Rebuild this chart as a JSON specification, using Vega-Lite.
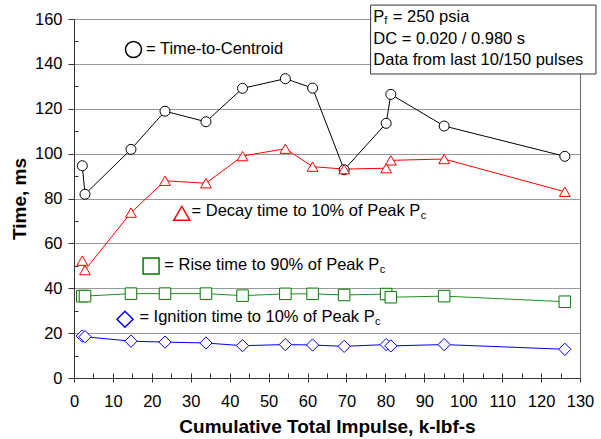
{
  "$schema": "https://vega.github.io/schema/vega-lite/v6.json",
  "autosize": "none",
  "width": 506,
  "height": 359,
  "padding": {"left": 74, "top": 19, "right": 21, "bottom": 61},
  "background": "white",
  "config": {
    "font": "Liberation Sans",
    "view": {"stroke": "#666666", "strokeWidth": 1},
    "axis": {"labelFont": "Liberation Sans", "titleFont": "Liberation Sans", "labelColor": "#000000", "titleColor": "#000000"}
  },
  "datasets": {
    "main": [
      {"x": 2.13, "y": 94.6, "s": "Centroid"},
      {"x": 2.83, "y": 81.9, "s": "Centroid"},
      {"x": 14.64, "y": 101.9, "s": "Centroid"},
      {"x": 23.38, "y": 118.9, "s": "Centroid"},
      {"x": 33.9, "y": 114.2, "s": "Centroid"},
      {"x": 43.3, "y": 129.1, "s": "Centroid"},
      {"x": 54.3, "y": 133.4, "s": "Centroid"},
      {"x": 61.3, "y": 129.2, "s": "Centroid"},
      {"x": 69.4, "y": 92.8, "s": "Centroid"},
      {"x": 80.2, "y": 113.5, "s": "Centroid"},
      {"x": 81.4, "y": 126.4, "s": "Centroid"},
      {"x": 95.1, "y": 112.3, "s": "Centroid"},
      {"x": 126.1, "y": 98.8, "s": "Centroid"},
      {"x": 2.13, "y": 52.3, "s": "Decay"},
      {"x": 2.83, "y": 48.1, "s": "Decay"},
      {"x": 14.64, "y": 73.7, "s": "Decay"},
      {"x": 23.38, "y": 87.9, "s": "Decay"},
      {"x": 33.9, "y": 86.8, "s": "Decay"},
      {"x": 43.3, "y": 98.9, "s": "Decay"},
      {"x": 54.3, "y": 102.2, "s": "Decay"},
      {"x": 61.3, "y": 94.2, "s": "Decay"},
      {"x": 69.4, "y": 93.1, "s": "Decay"},
      {"x": 80.2, "y": 93.5, "s": "Decay"},
      {"x": 81.4, "y": 97.0, "s": "Decay"},
      {"x": 95.1, "y": 97.6, "s": "Decay"},
      {"x": 126.1, "y": 83.0, "s": "Decay"},
      {"x": 2.13, "y": 36.5, "s": "Rise"},
      {"x": 2.83, "y": 36.5, "s": "Rise"},
      {"x": 14.64, "y": 37.6, "s": "Rise"},
      {"x": 23.38, "y": 37.6, "s": "Rise"},
      {"x": 33.9, "y": 37.6, "s": "Rise"},
      {"x": 43.3, "y": 36.7, "s": "Rise"},
      {"x": 54.3, "y": 37.5, "s": "Rise"},
      {"x": 61.3, "y": 37.5, "s": "Rise"},
      {"x": 69.4, "y": 37.0, "s": "Rise"},
      {"x": 80.2, "y": 37.4, "s": "Rise"},
      {"x": 81.4, "y": 36.0, "s": "Rise"},
      {"x": 95.1, "y": 36.5, "s": "Rise"},
      {"x": 126.1, "y": 34.0, "s": "Rise"},
      {"x": 2.13, "y": 18.7, "s": "Ignition"},
      {"x": 2.83, "y": 18.4, "s": "Ignition"},
      {"x": 14.64, "y": 16.4, "s": "Ignition"},
      {"x": 23.38, "y": 16.0, "s": "Ignition"},
      {"x": 33.9, "y": 15.6, "s": "Ignition"},
      {"x": 43.3, "y": 14.4, "s": "Ignition"},
      {"x": 54.3, "y": 14.9, "s": "Ignition"},
      {"x": 61.3, "y": 14.7, "s": "Ignition"},
      {"x": 69.4, "y": 14.1, "s": "Ignition"},
      {"x": 80.2, "y": 14.9, "s": "Ignition"},
      {"x": 81.4, "y": 14.3, "s": "Ignition"},
      {"x": 95.1, "y": 14.9, "s": "Ignition"},
      {"x": 126.1, "y": 12.8, "s": "Ignition"}
    ],
    "keys": [
      {"x": 15.28, "y": 146.4, "s": "Centroid"},
      {"x": 27.7, "y": 73.4, "s": "Decay"},
      {"x": 19.8, "y": 49.9, "s": "Rise"},
      {"x": 13.1, "y": 26.2, "s": "Ignition"}
    ],
    "labels": [
      {"x": 18.5, "y": 146.6, "t": "= Time-to-Centroid"},
      {"x": 30.2, "y": 74.4, "t": "= Decay time to 10% of Peak P"},
      {"x": 23.2, "y": 50.4, "t": "= Rise time to 90% of Peak P"},
      {"x": 16.8, "y": 27.3, "t": "= Ignition time to 10% of Peak P"},
      {"x": 76.9, "y": 161.0, "t": "P"},
      {"x": 81.9, "y": 161.0, "t": "= 250 psia"},
      {"x": 76.9, "y": 151.1, "t": "DC = 0.020 / 0.980 s"},
      {"x": 76.9, "y": 141.7, "t": "Data from last 10/150 pulses"}
    ],
    "subs": [
      {"x": 89.1, "y": 72.4, "t": "c"},
      {"x": 78.55, "y": 48.1, "t": "c"},
      {"x": 77.35, "y": 25.1, "t": "c"},
      {"x": 79.7, "y": 159.3, "t": "f"}
    ],
    "box": [
      {"x": 76.2, "x2": 134.1, "y": 166.2, "y2": 135.5}
    ]
  },
  "resolve": {"axis": {"x": "independent", "y": "independent"}},
  "layer": [
    {
      "data": {"name": "main"},
      "mark": {"type": "line", "strokeWidth": 1},
      "encoding": {
        "x": {"field": "x", "type": "quantitative",
          "scale": {"domain": [0, 130], "nice": false, "zero": false},
          "axis": {"orient": "bottom", "values": [0,10,20,30,40,50,60,70,80,90,100,110,120,130],
            "title": "Cumulative Total Impulse, k-lbf-s", "titleFontSize": 19, "titleFontWeight": "bold",
            "labelFontSize": 16.5, "tickSize": 4, "tickColor": "#333333", "domainColor": "#333333",
            "labelPadding": 11, "titlePadding": 8, "grid": false, "labelFlush": false}},
        "y": {"field": "y", "type": "quantitative",
          "scale": {"domain": [0, 160], "nice": false},
          "axis": {"orient": "left", "values": [0,20,40,60,80,100,120,140,160],
            "title": "Time, ms", "titleFontSize": 19, "titleFontWeight": "bold",
            "labelFontSize": 16.5, "tickSize": 6, "tickColor": "#333333", "domainColor": "#333333",
            "labelPadding": 6, "titlePadding": 5, "grid": true, "gridColor": "#999999", "gridWidth": 1}},
        "color": {"field": "s", "type": "nominal", "legend": null,
          "scale": {"domain": ["Centroid", "Decay", "Rise", "Ignition"], "range": ["#000000", "#ff0000", "#1f8f1f", "#0000ff"]}}
      }
    },
    {
      "data": {"name": "main"},
      "mark": {"type": "point", "filled": false, "fill": "white", "fillOpacity": 1, "opacity": 1, "strokeWidth": 1},
      "encoding": {
        "x": {"field": "x", "type": "quantitative",
          "axis": {"orient": "bottom", "values": [5,10,15,20,25,30,35,40,45,50,55,60,65,70,75,80,85,90,95,100,105,110,115,120,125],
            "labels": false, "title": null, "domain": false, "tickSize": -5, "tickColor": "#333333", "grid": false}},
        "y": {"field": "y", "type": "quantitative",
          "axis": {"orient": "left", "values": [10,30,50,70,90,110,130,150],
            "labels": false, "title": null, "domain": false, "tickSize": -4, "tickColor": "#333333", "grid": false}},
        "stroke": {"field": "s", "type": "nominal", "legend": null,
          "scale": {"domain": ["Centroid", "Decay", "Rise", "Ignition"], "range": ["#000000", "#ff0000", "#007a00", "#0000ff"]}},
        "shape": {"field": "s", "type": "nominal", "legend": null,
          "scale": {"domain": ["Centroid", "Decay", "Rise", "Ignition"], "range": ["circle", "triangle-up", "square", "diamond"]}},
        "size": {"field": "s", "type": "nominal", "legend": null,
          "scale": {"domain": ["Centroid", "Decay", "Rise", "Ignition"], "range": [100, 150, 90, 110]}}
      }
    },
    {
      "data": {"name": "keys"},
      "mark": {"type": "point", "filled": false, "fill": "white", "fillOpacity": 1, "opacity": 1, "strokeWidth": 1.5},
      "encoding": {
        "x": {"field": "x", "type": "quantitative", "axis": null},
        "y": {"field": "y", "type": "quantitative", "axis": null},
        "stroke": {"field": "s", "type": "nominal", "legend": null,
          "scale": {"domain": ["Centroid", "Decay", "Rise", "Ignition"], "range": ["#000000", "#ff0000", "#007a00", "#0000ff"]}},
        "shape": {"field": "s", "type": "nominal", "legend": null},
        "size": {"value": 256}
      }
    },
    {
      "data": {"name": "box"},
      "mark": {"type": "rect", "fill": "white", "stroke": "#333333", "strokeWidth": 1},
      "encoding": {
        "x": {"field": "x", "type": "quantitative", "axis": null},
        "x2": {"field": "x2"},
        "y": {"field": "y", "type": "quantitative", "axis": null},
        "y2": {"field": "y2"}
      }
    },
    {
      "data": {"name": "labels"},
      "mark": {"type": "text", "align": "left", "baseline": "middle", "fontSize": 16.5, "color": "#000000", "font": "Liberation Sans"},
      "encoding": {
        "x": {"field": "x", "type": "quantitative", "axis": null},
        "y": {"field": "y", "type": "quantitative", "axis": null},
        "text": {"field": "t"}
      }
    },
    {
      "data": {"name": "subs"},
      "mark": {"type": "text", "align": "left", "baseline": "middle", "fontSize": 11, "color": "#000000", "font": "Liberation Sans"},
      "encoding": {
        "x": {"field": "x", "type": "quantitative", "axis": null},
        "y": {"field": "y", "type": "quantitative", "axis": null},
        "text": {"field": "t"}
      }
    }
  ]
}
